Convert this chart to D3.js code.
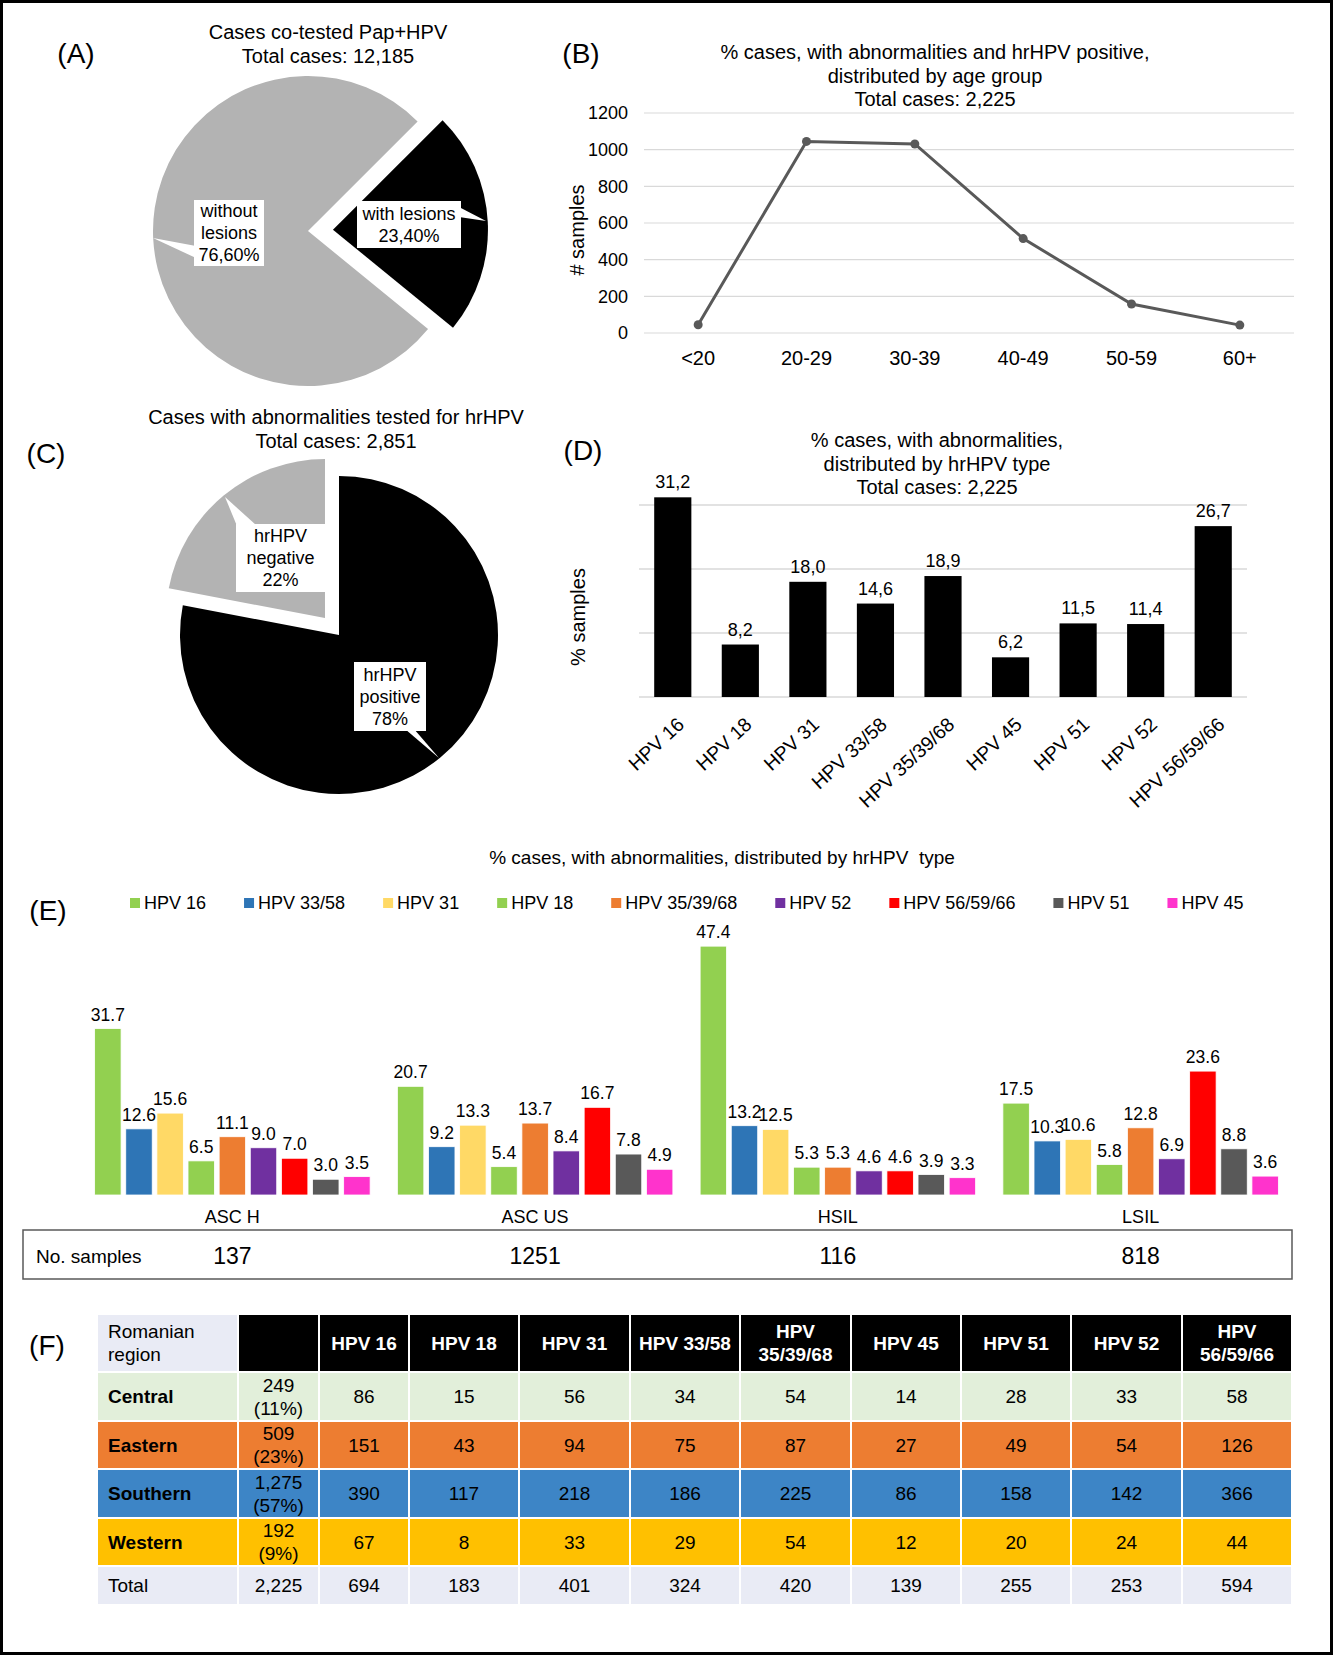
<!DOCTYPE html>
<html lang="en">
<head>
<meta charset="utf-8">
<title>HPV figure</title>
<script src="https://cdnjs.cloudflare.com/ajax/libs/d3/7.8.5/d3.min.js"></script>
<style>
  body { margin: 0; background: #fff; }
  svg { display: block; font-family: "Liberation Sans", Arial, sans-serif; }
</style>
</head>
<body>
<svg id="fig" width="1333" height="1655"></svg>
<script>
// ---- data ----
var pieALabels = ["with lesions", "without lesions"];
var pieAValues = [23.4, 76.6];

var pieCLabels = ["hrHPV positive", "hrHPV negative"];
var pieCValues = [78, 22];

var ageGroups = ["<20", "20-29", "30-39", "40-49", "50-59", "60+"];
var ageCounts = [45, 1045, 1031, 515, 158, 43];
var ageTicks = [0, 200, 400, 600, 800, 1000, 1200];

var hpvTypes = ["HPV 16", "HPV 18", "HPV 31", "HPV 33/58", "HPV 35/39/68", "HPV 45", "HPV 51", "HPV 52", "HPV 56/59/66"];
var hpvPct = [31.2, 8.2, 18.0, 14.6, 18.9, 6.2, 11.5, 11.4, 26.7];

var lesionTypes = ["ASC H", "ASC US", "HSIL", "LSIL"];
var lesionSamples = [137, 1251, 116, 818];
var seriesNames = ["HPV 16", "HPV 33/58", "HPV 31", "HPV 18", "HPV 35/39/68", "HPV 52", "HPV 56/59/66", "HPV 51", "HPV 45"];
var ascH  = [31.7, 12.6, 15.6, 6.5, 11.1, 9.0, 7.0, 3.0, 3.5];
var ascUS = [20.7, 9.2, 13.3, 5.4, 13.7, 8.4, 16.7, 7.8, 4.9];
var hsil  = [47.4, 13.2, 12.5, 5.3, 5.3, 4.6, 4.6, 3.9, 3.3];
var lsil  = [17.5, 10.3, 10.6, 5.8, 12.8, 6.9, 23.6, 8.8, 3.6];

var regions = ["Central", "Eastern", "Southern", "Western", "Total"];
var regionCounts = ["249|(11%)", "509|(23%)", "1,275|(57%)", "192|(9%)", "2,225"];
var tableHeads = ["HPV 16", "HPV 18", "HPV 31", "HPV 33/58", "HPV|35/39/68", "HPV 45", "HPV 51", "HPV 52", "HPV|56/59/66"];
var central  = [86, 15, 56, 34, 54, 14, 28, 33, 58];
var eastern  = [151, 43, 94, 75, 87, 27, 49, 54, 126];
var southern = [390, 117, 218, 186, 225, 86, 158, 142, 366];
var western  = [67, 8, 33, 29, 54, 12, 20, 24, 44];
var totals   = [694, 183, 401, 324, 420, 139, 255, 253, 594];

// ---- setup ----
var svg = d3.select("#fig");
svg.append("rect").attr("x", 1.5).attr("y", 1.5).attr("width", 1330).attr("height", 1652)
  .attr("fill", "#fff").attr("stroke", "#000").attr("stroke-width", 3);

function panelLetter(t, x, y) {
  svg.append("text").attr("x", x).attr("y", y).attr("text-anchor", "middle")
    .style("font-size", "28px").text(t);
}
function title(lines, x, y, size) {
  var t = svg.append("text").attr("text-anchor", "middle").style("font-size", size + "px")
    .style("white-space", "pre");
  lines.forEach(function(l, i) {
    t.append("tspan").attr("x", x).attr("y", y + i * 23.5).text(l);
  });
}
// white label box with a pointer
function callout(g, box, base, tip, lines) {
  g.append("path")
    .attr("d", "M" + base[0] + "L" + tip + "L" + base[1] + "Z")
    .attr("fill", "#fff");
  g.append("rect").attr("x", box[0]).attr("y", box[1]).attr("width", box[2]).attr("height", box[3])
    .attr("fill", "#fff");
  var cx = box[0] + box[2] / 2, cy = box[1] + box[3] / 2;
  lines.forEach(function(l, i) {
    g.append("text").attr("x", cx).attr("y", cy + (i - (lines.length - 1) / 2) * 22)
      .attr("dy", "0.35em").attr("text-anchor", "middle").style("font-size", "18px").text(l);
  });
}

// ---- (A) pie ----
panelLetter("(A)", 76, 63);
title(["Cases co-tested Pap+HPV", "Total cases: 12,185"], 328, 39, 20);
var deg = Math.PI / 180;
var pieA = d3.pie().sort(null).startAngle(45 * deg).endAngle(405 * deg)(pieAValues);
var arcA = d3.arc().innerRadius(0).outerRadius(155);
var gA = svg.append("g");
pieA.forEach(function(d, i) {
  var off = i === 0 ? 25 : 0;
  var mid = (d.startAngle + d.endAngle) / 2;
  gA.append("path")
    .attr("transform", "translate(" + (308 + off * Math.sin(mid)) + "," + (231 - off * Math.cos(mid)) + ")")
    .attr("d", arcA(d))
    .attr("fill", i === 0 ? "#000" : "#b3b3b3");
});
callout(gA, [194, 200, 70, 66], [[196, 246], [196, 258]], [153, 238], ["without", "lesions", "76,60%"]);
callout(gA, [357, 201, 104, 47], [[459, 207], [459, 217]], [486, 221], ["with lesions", "23,40%"]);

// ---- (B) line ----
panelLetter("(B)", 581, 63);
title(["% cases, with abnormalities and hrHPV positive,", "distributed by age group", "Total cases: 2,225"], 935, 59, 20);
var xB = d3.scalePoint().domain(ageGroups).range([644, 1294]).padding(0.5);
var yB = d3.scaleLinear().domain([0, 1200]).range([333, 113]);
var gB = svg.append("g");
gB.selectAll("line.grid").data(ageTicks).enter().append("line")
  .attr("x1", 644).attr("x2", 1294).attr("y1", yB).attr("y2", yB)
  .attr("stroke", "#d9d9d9").attr("stroke-width", 1.2);
gB.selectAll("text.yt").data(ageTicks).enter().append("text")
  .attr("x", 628).attr("y", yB).attr("dy", "0.35em").attr("text-anchor", "end")
  .style("font-size", "18px").text(function(d) { return d; });
gB.selectAll("text.xt").data(ageGroups).enter().append("text")
  .attr("x", xB).attr("y", 365).attr("text-anchor", "middle")
  .style("font-size", "20px").text(function(d) { return d; });
gB.append("text").attr("transform", "translate(584,230) rotate(-90)").attr("text-anchor", "middle")
  .style("font-size", "20px").text("# samples");
gB.append("path").datum(ageCounts)
  .attr("d", d3.line().x(function(d, i) { return xB(ageGroups[i]); }).y(yB))
  .attr("fill", "none").attr("stroke", "#595959").attr("stroke-width", 3);
gB.selectAll("circle").data(ageCounts).enter().append("circle")
  .attr("cx", function(d, i) { return xB(ageGroups[i]); }).attr("cy", yB).attr("r", 4.5)
  .attr("fill", "#595959");

// ---- (C) pie ----
panelLetter("(C)", 46, 463);
title(["Cases with abnormalities tested for hrHPV", "Total cases: 2,851"], 336, 424, 20);
var pieC = d3.pie().sort(null)(pieCValues);
var arcC = d3.arc().innerRadius(0).outerRadius(159);
var gC = svg.append("g");
pieC.forEach(function(d, i) {
  var off = i === 1 ? 22 : 0;
  var mid = (d.startAngle + d.endAngle) / 2;
  gC.append("path")
    .attr("transform", "translate(" + (339 + off * Math.sin(mid)) + "," + (635 - off * Math.cos(mid)) + ")")
    .attr("d", arcC(d))
    .attr("fill", i === 0 ? "#000" : "#b3b3b3");
});
callout(gC, [236, 524, 89, 68], [[237, 526], [257, 526]], [225, 497], ["hrHPV", "negative", "22%"]);
callout(gC, [354, 662, 72, 69], [[405, 729], [414, 729]], [439, 758], ["hrHPV", "positive", "78%"]);

// ---- (D) bars ----
panelLetter("(D)", 583, 460);
title(["% cases, with abnormalities,", "distributed by hrHPV type", "Total cases: 2,225"], 937, 447, 20);
var xD = d3.scaleBand().domain(hpvTypes).range([639, 1247]).paddingInner(0.45).paddingOuter(0.225);
var yD = d3.scaleLinear().domain([0, 30]).range([697, 505]);
var gD = svg.append("g");
gD.selectAll("line").data([0, 10, 20, 30]).enter().append("line")
  .attr("x1", 639).attr("x2", 1247).attr("y1", yD).attr("y2", yD)
  .attr("stroke", "#d9d9d9").attr("stroke-width", 1.5);
gD.selectAll("rect").data(hpvPct).enter().append("rect")
  .attr("x", function(d, i) { return xD(hpvTypes[i]); })
  .attr("width", xD.bandwidth())
  .attr("y", yD).attr("height", function(d) { return yD(0) - yD(d); })
  .attr("fill", "#000");
gD.selectAll("text.v").data(hpvPct).enter().append("text")
  .attr("x", function(d, i) { return xD(hpvTypes[i]) + xD.bandwidth() / 2; })
  .attr("y", function(d) { return yD(d) - 9; })
  .attr("text-anchor", "middle").style("font-size", "18px")
  .text(function(d) { return d3.format(".1f")(d).replace(".", ","); });
gD.selectAll("text.x").data(hpvTypes).enter().append("text")
  .attr("transform", function(d) {
    return "translate(" + (xD(d) + xD.bandwidth() / 2 + 8) + ",721) rotate(-43)";
  })
  .attr("dy", "0.35em").attr("text-anchor", "end").style("font-size", "19.5px")
  .text(function(d) { return d; });
gD.append("text").attr("transform", "translate(585,617) rotate(-90)").attr("text-anchor", "middle")
  .style("font-size", "20px").text("% samples");

// ---- (E) grouped bars ----
panelLetter("(E)", 48, 920);
title(["% cases, with abnormalities, distributed by hrHPV  type"], 722, 864, 19);
var seriesColors = ["#92d050", "#2e75b6", "#ffd966", "#92d050", "#ed7d31", "#7030a0", "#ff0000", "#595959", "#ff33cc"];
var colE = d3.scaleOrdinal().domain(seriesNames).range(seriesColors);
var groups = [ascH, ascUS, hsil, lsil];
var x0 = d3.scaleBand().domain(lesionTypes).range([81, 1292]).paddingInner(0.09).paddingOuter(0.045);
var x1 = d3.scaleBand().domain(seriesNames).range([0, x0.bandwidth()]).paddingInner(0.15);
var yE = d3.scaleLinear().domain([0, 50]).range([1195, 932.5]);
var gE = svg.append("g");
var grp = gE.selectAll("g.grp").data(groups).enter().append("g")
  .attr("transform", function(d, i) { return "translate(" + x0(lesionTypes[i]) + ",0)"; });
grp.selectAll("rect").data(function(d) { return d; }).enter().append("rect")
  .attr("x", function(d, i) { return x1(seriesNames[i]); })
  .attr("width", x1.bandwidth())
  .attr("y", yE).attr("height", function(d) { return yE(0) - yE(d); })
  .attr("fill", function(d, i) { return colE(seriesNames[i]); })
  .attr("stroke", "#fff").attr("stroke-width", 0.8);
grp.selectAll("text").data(function(d) { return d; }).enter().append("text")
  .attr("x", function(d, i) { return x1(seriesNames[i]) + x1.bandwidth() / 2; })
  .attr("y", function(d) { return yE(d) - 8; })
  .attr("text-anchor", "middle").style("font-size", "17.5px")
  .text(function(d) { return d3.format(".1f")(d); });
gE.selectAll("text.cat").data(lesionTypes).enter().append("text")
  .attr("x", function(d) { return x0(d) + x0.bandwidth() / 2; })
  .attr("y", 1223).attr("text-anchor", "middle").style("font-size", "18px")
  .text(function(d) { return d; });
// legend
var lx = 130;
seriesNames.forEach(function(s) {
  gE.append("rect").attr("x", lx).attr("y", 898).attr("width", 10).attr("height", 10).attr("fill", colE(s));
  var t = gE.append("text").attr("x", lx + 14).attr("y", 903).attr("dy", "0.35em")
    .style("font-size", "18px").text(s);
  lx += 14 + t.node().getComputedTextLength() + 38;
});
// samples row
gE.append("rect").attr("x", 23).attr("y", 1230).attr("width", 1269).attr("height", 49)
  .attr("fill", "none").attr("stroke", "#595959").attr("stroke-width", 1.5);
gE.append("text").attr("x", 36).attr("y", 1256).attr("dy", "0.35em").style("font-size", "19px").text("No. samples");
gE.selectAll("text.n").data(lesionSamples).enter().append("text")
  .attr("x", function(d, i) { return x0(lesionTypes[i]) + x0.bandwidth() / 2; })
  .attr("y", 1256).attr("dy", "0.35em").attr("text-anchor", "middle").style("font-size", "23px")
  .text(function(d) { return d; });

// ---- (F) table ----
panelLetter("(F)", 47, 1355);
var colEdges = [97, 238, 319, 409, 519, 630, 740, 851, 961, 1071, 1182, 1292];
var rowEdges = [1314, 1372, 1421, 1469, 1518, 1566, 1605];
var rowFill = ["#e2efda", "#ed7d31", "#3d85c6", "#ffc000", "#e9ebf5"];
var rowVals = [central, eastern, southern, western, totals];
var gF = svg.append("g");
function cell(c, r, fill, lines, opts) {
  var x = colEdges[c], y = rowEdges[r], w = colEdges[c + 1] - x, h = rowEdges[r + 1] - y;
  gF.append("rect").attr("x", x).attr("y", y).attr("width", w).attr("height", h)
    .attr("fill", fill).attr("stroke", "#fff").attr("stroke-width", 2);
  lines.forEach(function(l, i) {
    gF.append("text")
      .attr("x", opts.left ? x + 11 : x + w / 2)
      .attr("y", y + h / 2 + (i - (lines.length - 1) / 2) * 23)
      .attr("dy", "0.35em").attr("text-anchor", opts.left ? "start" : "middle")
      .attr("fill", opts.color || "#000")
      .style("font-size", "19px").style("font-weight", opts.bold ? "bold" : "normal")
      .text(l);
  });
}
cell(0, 0, "#e9ebf5", ["Romanian", "region"], { left: true });
cell(1, 0, "#000", [], {});
tableHeads.forEach(function(h, j) {
  cell(j + 2, 0, "#000", h.split("|"), { color: "#fff", bold: true });
});
regions.forEach(function(reg, r) {
  cell(0, r + 1, rowFill[r], [reg], { left: true, bold: r < 4 });
  cell(1, r + 1, rowFill[r], regionCounts[r].split("|"), {});
  rowVals[r].forEach(function(v, j) {
    cell(j + 2, r + 1, rowFill[r], [String(v)], {});
  });
});
</script>
</body>
</html>
